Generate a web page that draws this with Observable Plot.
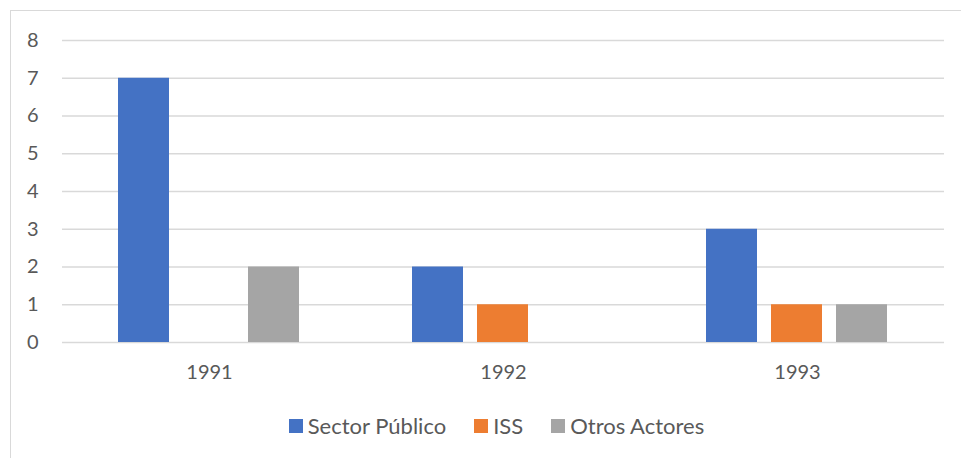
<!DOCTYPE html>
<html>
<head>
<meta charset="utf-8">
<script src="https://cdn.jsdelivr.net/npm/d3@7"></script>
<script src="https://cdn.jsdelivr.net/npm/@observablehq/plot@0.6"></script>
<style>
  html, body { margin: 0; padding: 0; background: #fff; }
  body { position: relative; width: 961px; height: 458px; overflow: hidden; font-family: Lato, "Noto Sans", sans-serif; }
  #frame { position: absolute; left: 10px; top: 10px; width: 960px; height: 470px; border: 1px solid #d9d9d9; box-sizing: border-box; }
  #chart { position: absolute; left: 0; top: 0; }
  #legend { position: absolute; left: 0; top: 412px; width: 961px; display: flex; justify-content: center; gap: 28px; color: #595959; font-size: 22px; padding-left: 32px; box-sizing: border-box; }
  .item { display: flex; align-items: center; gap: 5px; }
  .sw { width: 14px; height: 14px; display: inline-block; }
</style>
</head>
<body>
<div id="frame"></div>
<div id="chart"></div>
<div id="legend"></div>
<script>
const years = ["1991", "1992", "1993"];
const series = ["Sector Público", "ISS", "Otros Actores"];
const sectorPublico = [7, 2, 3];
const iss = [0, 1, 1];
const otrosActores = [2, 0, 1];
const colors = ["#4472C4", "#ED7D31", "#A5A5A5"];
const yTicks = [0, 1, 2, 3, 4, 5, 6, 7, 8];

const valuesBySeries = [sectorPublico, iss, otrosActores];
const data = [];
years.forEach((year, i) => {
  series.forEach((s, j) => data.push({year, series: s, value: valuesBySeries[j][i]}));
});

const chart = Plot.plot({
  width: 961,
  height: 400,
  marginLeft: 62,
  marginRight: 17,
  marginTop: 40,
  marginBottom: 58,
  style: {fontFamily: "Lato, 'Noto Sans', sans-serif", color: "#595959", background: "transparent"},
  y: {domain: [0, 8]},
  fx: {domain: years, padding: 0, label: null},
  x: {domain: series, paddingInner: 0.215, paddingOuter: 0.86, axis: null},
  color: {domain: series, range: colors},
  marks: [
    Plot.ruleY(yTicks, {stroke: "#d9d9d9", strokeWidth: 1.5}),
    Plot.barY(data, {fx: "year", x: "series", y: "value", fill: "series"}),
    Plot.axisY({ticks: yTicks, tickSize: 0, tickPadding: 24, label: null, fontSize: 20, fill: "#595959"}),
    Plot.axisFx({anchor: "bottom", tickSize: 0, tickPadding: 22, label: null, fontSize: 20, fill: "#595959"})
  ]
});
document.getElementById("chart").appendChild(chart);

const legend = document.getElementById("legend");
series.forEach((s, i) => {
  const item = document.createElement("div");
  item.className = "item";
  const sw = document.createElement("span");
  sw.className = "sw";
  sw.style.background = colors[i];
  const t = document.createElement("span");
  t.textContent = s;
  item.appendChild(sw);
  item.appendChild(t);
  legend.appendChild(item);
});
</script>
</body>
</html>
